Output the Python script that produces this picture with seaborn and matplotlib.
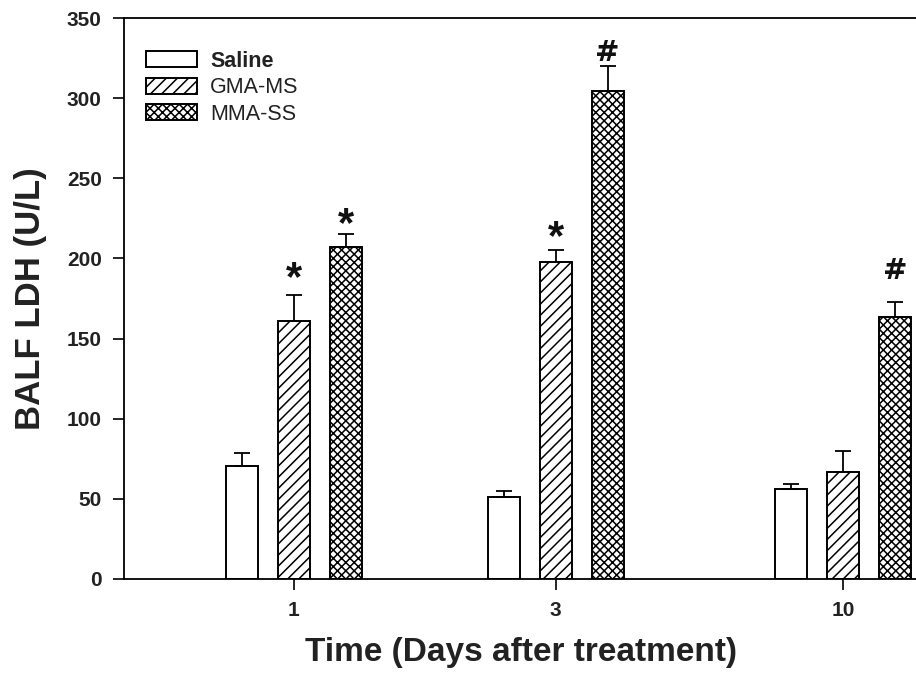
import numpy as np
import pandas as pd
import matplotlib
matplotlib.use("Agg")
import matplotlib.pyplot as plt
from matplotlib.patches import Patch
from matplotlib.ticker import FixedLocator, FixedFormatter, NullLocator
import seaborn as sns

# BALF LDH (U/L), mean and SE
days = [1, 3, 10]
groups = ["Saline", "GMA-MS", "MMA-SS"]
saline_mean = [70.5, 51.0, 56.0]
saline_se = [8.0, 4.0, 3.0]
gma_mean = [161.0, 197.5, 67.0]
gma_se = [16.0, 8.0, 13.0]
mma_mean = [207.0, 304.5, 163.5]
mma_se = [8.0, 15.5, 9.5]

# significance marks: (group, day, symbol, baseline height in U/L)
sig_group = ["GMA-MS", "MMA-SS", "GMA-MS", "MMA-SS", "MMA-SS"]
sig_day = [1, 1, 3, 3, 10]
sig_text = ["*", "*", "*", "#", "#"]
sig_y = [180, 214, 206, 323, 187]

hatches = {"Saline": "", "GMA-MS": "///", "MMA-SS": "xxxx"}


def build_frame() -> pd.DataFrame:
    means = {"Saline": saline_mean, "GMA-MS": gma_mean, "MMA-SS": mma_mean}
    ses = {"Saline": saline_se, "GMA-MS": gma_se, "MMA-SS": mma_se}
    rows = []
    for g in groups:
        for i, d in enumerate(days):
            rows.append({"day": d, "group": g, "ldh": means[g][i], "se": ses[g][i]})
    return pd.DataFrame(rows)


def main():
    sns.set_style("ticks")
    plt.rcParams["font.family"] = ["Liberation Sans", "DejaVu Sans"]
    plt.rcParams["hatch.linewidth"] = 1.1

    data = build_frame()

    fig = plt.figure(figsize=(9.16, 6.79), dpi=100)
    ax = fig.add_axes([124 / 916, 100 / 679, 794 / 916, 561 / 679])

    sns.barplot(
        data=data,
        x="day",
        y="ldh",
        hue="group",
        hue_order=groups,
        palette=["white"] * 3,
        native_scale=True,
        log_scale=(True, False),
        width=0.595,
        gap=0.385,
        errorbar=None,
        edgecolor="black",
        linewidth=1.4,
        legend=False,
        ax=ax,
    )

    # bars come out group by group, days in order
    centers = {}
    k = 0
    for g in groups:
        for d in days:
            p = ax.patches[k]
            p.set_hatch(hatches[g])
            x0, x1 = p.get_x(), p.get_x() + p.get_width()
            centers[(g, d)] = np.sqrt(x0 * x1)
            k += 1

    ex = [centers[(g, d)] for g, d in zip(data["group"], data["day"])]
    ax.errorbar(
        ex, data["ldh"], yerr=[np.zeros(len(data)), data["se"]],
        fmt="none", ecolor="black", elinewidth=1.3, capsize=6, capthick=1.3,
        zorder=1,
    )

    for g, d, s, y in zip(sig_group, sig_day, sig_text, sig_y):
        if s == "*":
            ax.text(centers[(g, d)], y, s, ha="center", va="baseline",
                    fontsize=30, fontweight="bold", color="#111111")
        else:
            ax.text(centers[(g, d)], y, s, ha="center", va="baseline",
                    fontsize=21, fontweight="bold", color="#111111",
                    family="DejaVu Sans")

    ax.set_xlim(10 ** -0.3085, 10 ** 1.1365)
    ax.set_ylim(0, 350)
    ax.xaxis.set_major_locator(FixedLocator(days))
    ax.xaxis.set_major_formatter(FixedFormatter([str(d) for d in days]))
    ax.xaxis.set_minor_locator(NullLocator())
    ax.set_yticks(range(0, 351, 50))

    for side in ["top", "left", "bottom", "right"]:
        ax.spines[side].set_linewidth(1.3)
        ax.spines[side].set_color("black")
    ax.tick_params(axis="both", direction="out", length=8, width=1.2, color="black")
    ax.tick_params(axis="x", labelsize=15, pad=8)
    ax.tick_params(axis="y", labelsize=15, pad=8)
    for lab in ax.get_xticklabels() + ax.get_yticklabels():
        lab.set_fontweight("bold")
        lab.set_color("#222222")

    ax.set_xlabel("Time (Days after treatment)", fontsize=24, fontweight="bold",
                  color="#222222", labelpad=12)
    ax.set_ylabel("BALF LDH (U/L)", fontsize=25, fontweight="bold",
                  color="#222222", labelpad=14)

    handles = [Patch(facecolor="white", edgecolor="black", linewidth=1.4,
                     hatch=hatches[g], label=g) for g in groups]
    leg = ax.legend(handles=handles, loc="upper left", frameon=False,
                    fontsize=15.5, handlelength=2.4, handleheight=0.75,
                    handletextpad=0.6, labelspacing=0.25,
                    bbox_to_anchor=(0.0, 0.98), borderaxespad=0.6)
    leg.get_texts()[0].set_fontweight("bold")
    for t in leg.get_texts():
        t.set_color("#222222")

    fig.savefig("out.png", dpi=100)


if __name__ == "__main__":
    main()
